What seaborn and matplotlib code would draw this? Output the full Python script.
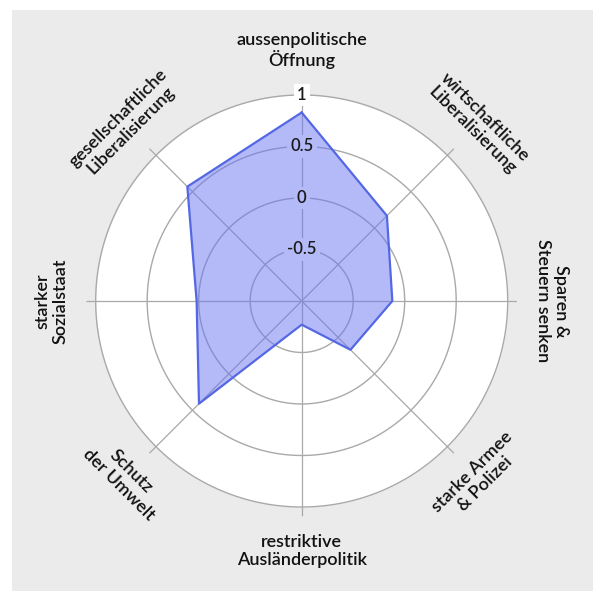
import numpy as np
import pandas as pd
import matplotlib
matplotlib.use("Agg")
import matplotlib.pyplot as plt
from matplotlib.patches import Rectangle
import seaborn as sns

# smartvote-Profil (Werte -1 .. 1), im Uhrzeigersinn ab oben
categories = [
    "aussenpolitische\nÖffnung",
    "wirtschaftliche\nLiberalisierung",
    "Sparen &\nSteuern senken",
    "starke Armee\n& Polizei",
    "restriktive\nAusländerpolitik",
    "Schutz\nder Umwelt",
    "starker\nSozialstaat",
    "gesellschaftliche\nLiberalisierung",
]
values = [0.83, 0.17, -0.12, -0.33, -0.77, 0.41, 0.02, 0.57]
ring_values = [-0.5, 0, 0.5, 1]
ring_labels = ["-0.5", "0", "0.5", "1"]

label_rot = [0, -45, -90, 45, 0, -45, 90, 45]

sns.set_theme(style="white")
plt.rcParams["font.family"] = ["Lato", "DejaVu Sans"]

GRID = "#a9a9a9"
FILL = "#6a74f2"
EDGE = "#5468e4"

fig = plt.figure(figsize=(5.93, 5.95), dpi=100)
fig.patch.set_facecolor("white")
fig.patches.append(Rectangle((12 / 593, 4 / 595), 1 - 12 / 593, 1 - 14 / 595,
                             transform=fig.transFigure, facecolor="#ebebeb",
                             edgecolor="none", zorder=-5))

ax = fig.add_axes([0.1457, 0.1323, 0.7261, 0.7237], projection="polar")
ax.set_theta_zero_location("N")
ax.set_theta_direction(-1)
ax.patch.set_visible(False)
ax.spines["polar"].set_visible(False)
ax.grid(False)
ax.set_xticks([])
ax.set_yticks([])
rmax = 2.0
ax.set_ylim(0, rmax * 1.045)

n = len(categories)
theta = np.arange(n) * 2 * np.pi / n
r = np.array(values) + 1

# weisse Scheibe
tt = np.linspace(0, 2 * np.pi, 400)
ax.fill_between(tt, 0, rmax, color="white", zorder=0.5, lw=0)

# Ringe und Speichen
for rv in ring_values:
    ax.plot(tt, np.full_like(tt, rv + 1), color=GRID, lw=1.0, zorder=1)
for th in theta:
    ax.plot([th, th], [0, rmax * 1.045], color=GRID, lw=0.9, zorder=1)

# Skalenbeschriftung: Aussparung unter dem Polygon, Text darueber
for rv, lab in zip(ring_values, ring_labels):
    ax.text(0, rv + 1, lab, ha="center", va="center", fontsize=12, color="none",
            bbox=dict(boxstyle="square,pad=0.2", fc="white", ec="none"), zorder=1.5)
    ax.text(0, rv + 1, lab, ha="center", va="center", fontsize=12,
            color="#1a1a1a", fontweight="semibold", zorder=4)

# Profil
df = pd.DataFrame({"theta": np.append(theta, theta[0]), "r": np.append(r, r[0])})
ax.fill(df["theta"], df["r"], color=FILL, alpha=0.5, lw=0, zorder=2)
sns.lineplot(data=df, x="theta", y="r", sort=False, estimator=None,
             color=EDGE, lw=1.6, ax=ax, zorder=3)
ax.set_xlabel("")
ax.set_ylabel("")

# Achsenbeschriftungen
for th, lab, rot in zip(theta, categories, label_rot):
    ax.text(th, 2.43, lab, ha="center", va="center", rotation=rot,
            rotation_mode="anchor", multialignment="center", fontsize=13,
            color="#111111", fontweight="semibold", linespacing=1.15,
            clip_on=False, zorder=5)

fig.savefig("out.png", dpi=100)
